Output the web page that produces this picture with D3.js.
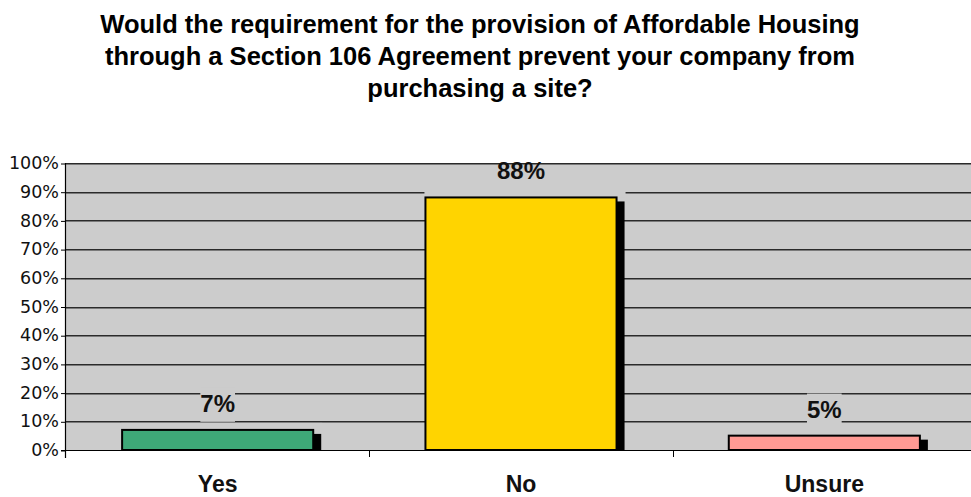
<!DOCTYPE html>
<html>
<head>
<meta charset="utf-8">
<script src="https://cdn.jsdelivr.net/npm/d3@7"></script>
<style>
  html, body { margin: 0; padding: 0; background: #fff; }
  svg { display: block; }
</style>
</head>
<body>
<svg id="chart" width="971" height="497"></svg>
<script>
// Survey answers and their share of respondents
const categories = ["Yes", "No", "Unsure"];
const shares = [7, 88, 5];
const valueLabels = ["7%", "88%", "5%"];
const barColors = ["#3ea878", "#ffd400", "#ff9a94"];
const yTicks = [0, 10, 20, 30, 40, 50, 60, 70, 80, 90, 100];
const titleLines = [
  "Would the requirement for the provision of Affordable Housing",
  "through a Section 106 Agreement prevent your company from",
  "purchasing a site?"
];

const svg = d3.select("#chart");
const plot = { left: 66, right: 976, top: 163, bottom: 450 };
const plotFill = "#cccccc";

// Outer bands hold the category separators and labels, inner bands the bars
const xOuter = d3.scaleBand()
  .domain(categories)
  .range([plot.left, plot.right]);

const x = d3.scaleBand()
  .domain(categories)
  .range([plot.left, plot.right])
  .paddingInner(0.37)
  .paddingOuter(0.185);

const y = d3.scaleLinear().domain([0, 100]).range([plot.bottom, plot.top]);

const bars = categories.map((c, i) => ({ c, v: shares[i], color: barColors[i], label: valueLabels[i] }));

// Title
svg.append("g")
  .selectAll("text")
  .data(titleLines)
  .join("text")
  .attr("x", 480)
  .attr("y", (d, i) => 33 + i * 32)
  .attr("text-anchor", "middle")
  .attr("font-family", "Liberation Sans, Arial, sans-serif")
  .attr("font-weight", "bold")
  .attr("font-size", 25.5)
  .attr("fill", "#000")
  .text(d => d);

// Plot background
svg.append("rect")
  .attr("x", plot.left)
  .attr("y", plot.top)
  .attr("width", plot.right - plot.left)
  .attr("height", plot.bottom - plot.top)
  .attr("fill", plotFill);

// Horizontal gridlines: dark line with a softer edge below
const grid = svg.append("g")
  .selectAll("g")
  .data(yTicks.filter(d => d > 0))
  .join("g");
grid.append("line")
  .attr("x1", plot.left).attr("x2", plot.right)
  .attr("y1", d => Math.round(y(d)) + 0.5)
  .attr("y2", d => Math.round(y(d)) + 0.5)
  .attr("stroke", "#2a2a2a");
grid.append("line")
  .attr("x1", plot.left).attr("x2", plot.right)
  .attr("y1", d => Math.round(y(d)) + 1.5)
  .attr("y2", d => Math.round(y(d)) + 1.5)
  .attr("stroke", "#7a7a7a");

// Thin clear margin just above each bar and its shadow
svg.append("g")
  .selectAll("rect")
  .data(bars)
  .join("rect")
  .attr("x", d => x(d.c) - 1)
  .attr("y", d => y(d.v) - 7)
  .attr("width", x.bandwidth() + 10)
  .attr("height", 7)
  .attr("fill", plotFill);

// Y axis
const yAxis = d3.axisLeft(y)
  .tickValues(yTicks)
  .tickFormat(d => d + "%")
  .tickSize(5)
  .tickPadding(2);
const gy = svg.append("g")
  .attr("transform", `translate(${plot.left},0)`)
  .call(yAxis);
gy.select(".domain").attr("stroke", "#000").attr("stroke-width", 1.2)
  .attr("d", `M-0.5,${plot.top}V${plot.bottom + 8}`);
gy.selectAll(".tick line").attr("stroke", "#000")
  .attr("transform", "translate(0,0.5)");
gy.selectAll(".tick text")
  .attr("font-family", "DejaVu Sans, Verdana, sans-serif")
  .attr("font-size", 17.5)
  .attr("fill", "#111");

// X axis baseline and separators between categories
svg.append("line")
  .attr("x1", plot.left - 5)
  .attr("x2", plot.right)
  .attr("y1", plot.bottom + 0.5)
  .attr("y2", plot.bottom + 0.5)
  .attr("stroke", "#000")
  .attr("stroke-width", 1.2);

svg.append("g")
  .selectAll("line")
  .data(categories.slice(1))
  .join("line")
  .attr("x1", d => Math.round(xOuter(d)) + 0.5)
  .attr("x2", d => Math.round(xOuter(d)) + 0.5)
  .attr("y1", plot.bottom)
  .attr("y2", plot.bottom + 7)
  .attr("stroke", "#000");

// Bar shadows
svg.append("g")
  .selectAll("rect")
  .data(bars)
  .join("rect")
  .attr("x", d => x(d.c) + 8)
  .attr("y", d => y(d.v) + 4)
  .attr("width", x.bandwidth())
  .attr("height", d => plot.bottom - y(d.v) - 4)
  .attr("fill", "#000");

// Bars
svg.append("g")
  .selectAll("rect")
  .data(bars)
  .join("rect")
  .attr("x", d => x(d.c))
  .attr("y", d => y(d.v))
  .attr("width", x.bandwidth())
  .attr("height", d => plot.bottom - y(d.v))
  .attr("fill", d => d.color)
  .attr("stroke", "#000")
  .attr("stroke-width", 2);

// Value labels on a plot-coloured patch, kept inside the plot area
const labels = svg.append("g")
  .selectAll("g")
  .data(bars)
  .join("g")
  .attr("transform", d => `translate(${x(d.c) + x.bandwidth() / 2},${y(d.v) - 26.5})`);

labels.append("text")
  .attr("text-anchor", "middle")
  .attr("dy", "0.35em")
  .attr("font-family", "Liberation Sans, Arial, sans-serif")
  .attr("font-weight", "bold")
  .attr("font-size", 24)
  .attr("fill", "#111")
  .text(d => d.label)
  .each(function (d) {
    const b = this.getBBox();
    const originY = y(d.v) - 26.5;
    const top = Math.max(b.y - 2, plot.top + 2 - originY);
    const bottom = b.y + b.height + 5;
    d3.select(this.parentNode).insert("rect", "text")
      .attr("x", b.x)
      .attr("y", top)
      .attr("width", b.width)
      .attr("height", bottom - top)
      .attr("fill", plotFill);
  });

// Category labels
svg.append("g")
  .selectAll("text")
  .data(categories)
  .join("text")
  .attr("x", d => xOuter(d) + xOuter.bandwidth() / 2)
  .attr("y", 492)
  .attr("text-anchor", "middle")
  .attr("font-family", "Liberation Sans, Arial, sans-serif")
  .attr("font-weight", "bold")
  .attr("font-size", 23)
  .attr("fill", "#111")
  .text(d => d);
</script>
</body>
</html>
